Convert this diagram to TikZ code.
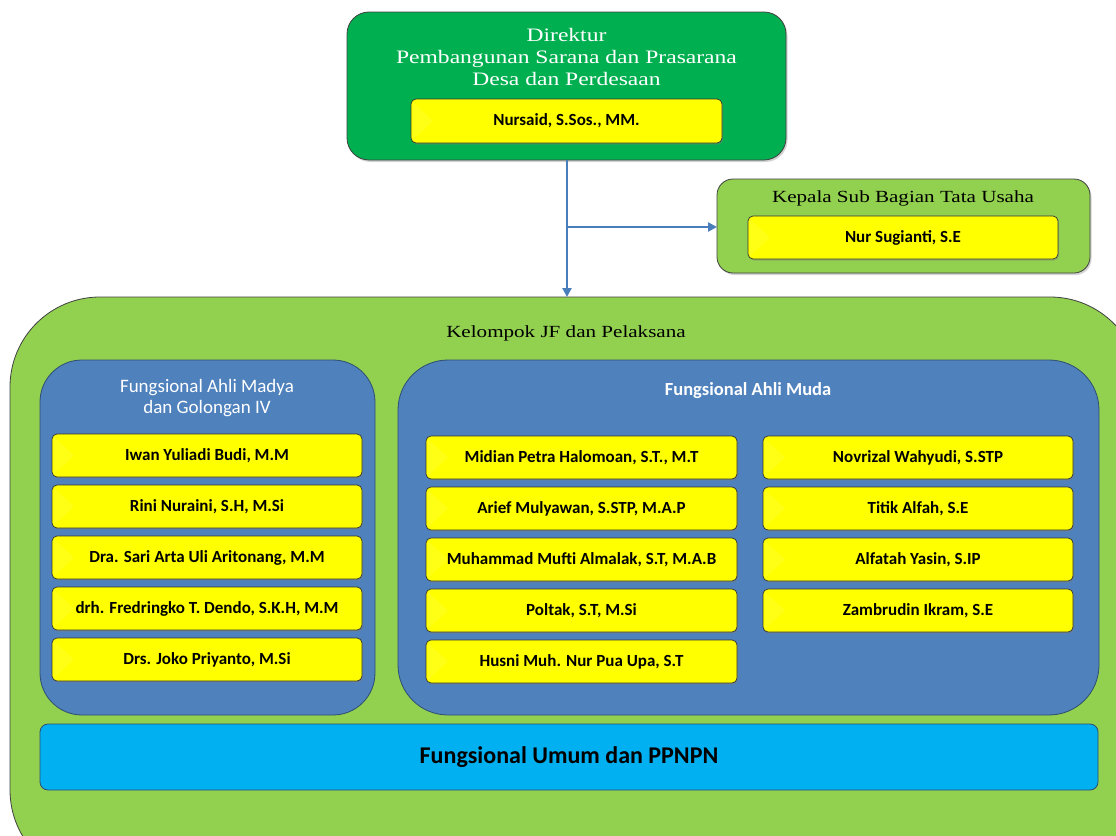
\documentclass[tikz,border=0pt]{standalone}
\usepackage{fontspec}
\setmainfont{Liberation Serif}
\newfontfamily\titlefont[FakeStretch=1.24]{Liberation Serif}
\newfontfamily\calb{Carlito}
\usetikzlibrary{shadows,arrows.meta}
\definecolor{dirgreen}{HTML}{00B050}
\definecolor{lgreen}{HTML}{92D050}
\definecolor{pblue}{HTML}{4F81BD}
\definecolor{cyanb}{HTML}{00B0F0}
\definecolor{yel}{HTML}{FFFF00}
\definecolor{conn}{HTML}{4A7EBB}
\tikzset{
  panel/.style={draw=black!75, line width=0.8pt, drop shadow={shadow xshift=1.5pt,shadow yshift=-2pt,opacity=0.35}},
  namebox/.style={draw=black!80, line width=0.7pt, fill=yel, rounded corners=5pt, drop shadow={shadow xshift=1.2pt,shadow yshift=-1.5pt,opacity=0.4}},
  nametext/.style={font=\calb\bfseries\fontsize{17}{19}\selectfont, text=black},
  bluepanel/.style={draw=pblue!60!black, line width=0.8pt, fill=pblue},
  conn/.style={draw=conn, line width=2.5pt, -{Triangle[length=9pt,width=9pt]}},
  bevel/.style={fill=yel!85!white, opacity=0.6},
}
\newcommand{\nbox}[5]{% name, x1, y1, x2, text
  \draw[namebox] (#2,#3) rectangle (#4,#3+43);
  \fill[bevel] (#2+2,#3+3) -- (#2+22,#3+21.5) -- (#2+2,#3+40) -- cycle;
  \node[nametext] (#1) at ({(#2+#4)/2},#3+22) {#5};
}
\begin{document}
\begin{tikzpicture}[x=1pt,y=-1pt]
\useasboundingbox (0,0) rectangle (1116,835);
\clip (0,0) rectangle (1116,835);
% Director
\draw[panel, fill=dirgreen, rounded corners=22pt] (347,12) rectangle (786,160);
\node[text=white, font=\titlefont\fontsize{19}{22}\selectfont, align=center] (dirtitle) at (566.5,57) {Direktur\\Pembangunan Sarana dan Prasarana\\Desa dan Perdesaan};
\coordinate (dirb) at (567,160);
\draw[namebox] (411,99) rectangle (722,143);
\fill[bevel] (413,102) -- (433,121) -- (413,140) -- cycle;
\node[nametext] (dir) at (566.5,121) {Nursaid, S.Sos., MM.};
% Kepala
\draw[panel, fill=lgreen, rounded corners=16pt] (717,179) rectangle (1090,273);
\node[font=\titlefont\fontsize{17}{20}\selectfont] (kt) at (903,198) {Kepala Sub Bagian Tata Usaha};
\coordinate (kl) at (717,227);
\nbox{kep}{748}{216}{1058}{Nur Sugianti, S.E}
% Outer
\draw[panel, fill=lgreen, rounded corners=90pt] (10,297) rectangle (1140,880);
\coordinate (outtop) at (567,297);
\node[font=\titlefont\fontsize{17}{20}\selectfont] (jf) at (566,333) {Kelompok JF dan Pelaksana};
% connectors
\coordinate (br) at (567,227);
\draw[conn] (dirb) -- (outtop);
\draw[conn] (br) -- (kl);
% Left blue panel
\draw[bluepanel, rounded corners=42pt] (40,360) rectangle (375,715);
\node[text=white, font=\calb\fontsize{19}{21}\selectfont, align=center] (lt) at (207,398) {Fungsional Ahli Madya\\dan Golongan IV};
\nbox{l1}{52}{434}{362}{Iwan Yuliadi Budi, M.M}
\nbox{l2}{52}{485}{362}{Rini Nuraini, S.H, M.Si}
\nbox{l3}{52}{536}{362}{Dra. Sari Arta Uli Aritonang, M.M}
\nbox{l4}{52}{587}{362}{drh. Fredringko T. Dendo, S.K.H, M.M}
\nbox{l5}{52}{638}{362}{Drs. Joko Priyanto, M.Si}
% Right blue panel
\draw[bluepanel, rounded corners=50pt] (398,360) rectangle (1099,715);
\node[text=white, font=\calb\bfseries\fontsize{18.5}{21}\selectfont] (rt) at (748,391) {Fungsional Ahli Muda};
\nbox{m1}{426}{436}{737}{Midian Petra Halomoan, S.T., M.T}
\nbox{m2}{426}{487}{737}{Arief Mulyawan, S.STP, M.A.P}
\nbox{m3}{426}{538}{737}{Muhammad Mufti Almalak, S.T, M.A.B}
\nbox{m4}{426}{589}{737}{Poltak, S.T, M.Si}
\nbox{m5}{426}{640}{737}{Husni Muh. Nur Pua Upa, S.T}
\nbox{n1}{763}{436}{1073}{Novrizal Wahyudi, S.STP}
\nbox{n2}{763}{487}{1073}{Titik Alfah, S.E}
\nbox{n3}{763}{538}{1073}{Alfatah Yasin, S.IP}
\nbox{n4}{763}{589}{1073}{Zambrudin Ikram, S.E}
% Cyan
\draw[draw=pblue!60!black, line width=0.8pt, fill=cyanb, rounded corners=8pt] (40,724) rectangle (1098,790);
\node[font=\calb\bfseries\fontsize{24}{26}\selectfont] (fu) at (569,757) {Fungsional Umum dan PPNPN};
\end{tikzpicture}
\end{document}
